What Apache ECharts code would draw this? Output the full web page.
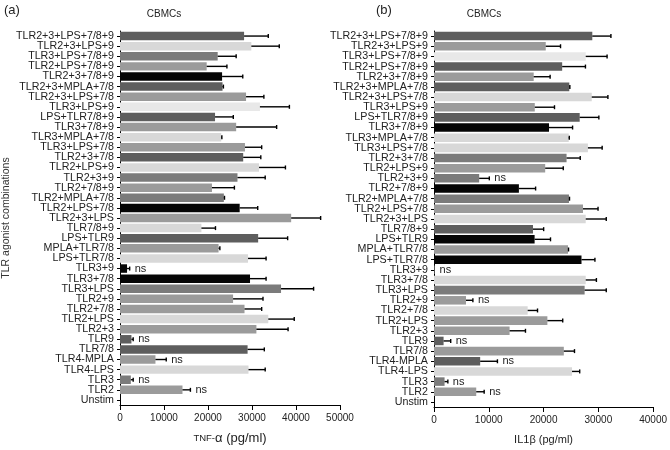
<!DOCTYPE html>
<html>
<head>
<meta charset="utf-8">
<script src="https://cdn.jsdelivr.net/npm/echarts@6/dist/echarts.min.js"></script>
<style>
html,body{margin:0;padding:0;background:#fff;}
#chart{width:670px;height:450px;}
</style>
</head>
<body>
<div id="chart"></div>
<script>
const categories = [
  'TLR2+3+LPS+7/8+9','TLR2+3+LPS+9','TLR3+LPS+7/8+9','TLR2+LPS+7/8+9','TLR2+3+7/8+9',
  'TLR2+3+MPLA+7/8','TLR2+3+LPS+7/8','TLR3+LPS+9','LPS+TLR7/8+9','TLR3+7/8+9',
  'TLR3+MPLA+7/8','TLR3+LPS+7/8','TLR2+3+7/8','TLR2+LPS+9','TLR2+3+9',
  'TLR2+7/8+9','TLR2+MPLA+7/8','TLR2+LPS+7/8','TLR2+3+LPS','TLR7/8+9',
  'LPS+TLR9','MPLA+TLR7/8','LPS+TLR7/8','TLR3+9','TLR3+7/8',
  'TLR3+LPS','TLR2+9','TLR2+7/8','TLR2+LPS','TLR2+3',
  'TLR9','TLR7/8','TLR4-MPLA','TLR4-LPS','TLR3','TLR2','Unstim'
];

// Panel (a): TNF-alpha (pg/ml)
const tnfValues = [
  28200,29850,22200,19700,23200, 23300,28650,31800,21600,26400,
  23000,28400,28000,31600,26700, 20900,23600,27200,38900,18500,
  31400,22400,29100,1600,29550, 36600,25700,28300,33700,31000,
  2600,29000,8060,29200,2460,14200,0
];
const tnfErrors = [
  5500,6350,4200,4600,4700, 200,4050,6700,4150,9200,
  150,3800,4000,6000,6300, 5100,150,4100,6700,3200,
  6700,300,4100,600,3650, 7400,6800,3900,5900,7200,
  400,3800,2450,3800,540,1800,0
];
const tnfNs = ['TLR3+9','TLR9','TLR4-MPLA','TLR3','TLR2'];
const tnfShades = [
  'D','L','M2','M','K', 'D','M','P','D','M',
  'L','M','D','L','M2', 'M','M2','K','M','L',
  'D','M','L','K','K', 'M2','M','M','L','M',
  'D','D','M','L','M2','M','M'
];

// Panel (b): IL1beta (pg/ml)
const il1Values = [
  28900,20400,27700,23400,18200, 24700,28800,18400,26600,21000,
  24600,28100,24200,20300,8250, 15500,24640,27200,27700,18070,
  18370,24460,26930,100,27700, 27500,5840,17100,20700,13800,
  1750,23700,8430,25200,1930,7710,0
];
const il1Errors = [
  3400,2700,3900,4250,3000, 100,2950,3600,3500,4300,
  100,2600,2500,3300,1850, 3050,100,2750,3750,1950,
  2900,100,2450,0,1950, 3950,1260,1800,2800,2900,
  1300,1950,3150,1400,600,1450,0
];
const il1Ns = ['TLR2+3+9','TLR3+9','TLR2+9','TLR9','TLR4-MPLA','TLR3','TLR2'];
const il1Shades = [
  'D','M','P','D','M', 'D','L','M','D','K',
  'L','L','M2','M','M2', 'K','M2','M','L','D',
  'K','M','K','M','L', 'M2','M','L','M','M',
  'D','M','D','L','M2','M','M'
];

const tnfTicks = [0,10000,20000,30000,40000,50000];
const il1Ticks = [0,10000,20000,30000,40000];

const palette = {K:'#050505', D:'#5e5e5e', M2:'#7b7b7b', M:'#9b9b9b', L:'#d8d8d8', P:'#e8e8e8'};
const FONT = 'Liberation Sans, Arial, sans-serif';

function barData(values, shades){
  return values.map((v,i)=>({value:v, itemStyle:{color:palette[shades[i]]}}));
}
function errData(values, errors, nsList){
  return values.map((v,i)=>[v, i, errors[i], nsList.indexOf(categories[i])>=0 ? 1 : 0]);
}
function errRender(params, api){
  const v = api.value(0), idx = api.value(1), e = api.value(2), ns = api.value(3);
  const p0 = api.coord([v, idx]);
  const p1 = api.coord([v + e, idx]);
  const children = [];
  if (e > 0) {
    children.push({type:'line', shape:{x1:p0[0], y1:p0[1], x2:p1[0], y2:p1[1]}, style:{stroke:'#000', lineWidth:1.4}});
    children.push({type:'line', shape:{x1:p1[0], y1:p1[1]-2, x2:p1[0], y2:p1[1]+2}, style:{stroke:'#000', lineWidth:1.4}});
  }
  if (ns) {
    children.push({type:'text', style:{text:'ns', x:p1[0]+5, y:p1[1], fill:'#222', font:'11px '+FONT, textVerticalAlign:'middle', verticalAlign:'middle'}});
  }
  return {type:'group', children};
}

function yAxisCfg(gridIndex, withName){
  return {
    type:'category', gridIndex, data:categories, inverse:true,
    axisLine:{show:true, lineStyle:{color:'#000', width:1}},
    axisTick:{show:true, length:3, alignWithLabel:true, lineStyle:{color:'#000'}},
    axisLabel:{fontSize:10.7, color:'#222', fontFamily:FONT, margin:6, interval:0},
    name: withName ? 'TLR agonist combinations' : '',
    nameLocation:'middle', nameRotate:90, nameGap:108,
    nameTextStyle:{fontSize:10.5, color:'#333', fontFamily:FONT}
  };
}
function xAxisCfg(gridIndex, ticks, name, rich){
  return {
    type:'value', gridIndex, min:ticks[0], max:ticks[ticks.length-1], interval:ticks[1]-ticks[0],
    axisLine:{show:true, lineStyle:{color:'#000', width:1}},
    axisTick:{show:true, length:5, lineStyle:{color:'#000'}},
    axisLabel:{fontSize:10, color:'#222', fontFamily:FONT, margin:8, formatter:(v)=>String(v)},
    splitLine:{show:false},
    name, nameLocation:'middle', nameGap:27,
    nameTextStyle:{fontSize:11, color:'#222', fontFamily:FONT, rich}
  };
}

const chart = echarts.init(document.getElementById('chart'), null, {renderer:'canvas'});
chart.setOption({
  backgroundColor:'#fff',
  animation:false,
  grid:[
    {left:117, right:330, top:31, bottom:39},
    {left:434, right:14, top:31, bottom:39}
  ],
  graphic:[
    {type:'text', left:4, top:4, style:{text:'(a)', font:'13px '+FONT, fill:'#222'}},
    {type:'text', left:376, top:4, style:{text:'(b)', font:'13px '+FONT, fill:'#222'}},
    {type:'text', x:164, y:14, style:{text:'CBMCs', font:'10px '+FONT, fill:'#222', textAlign:'center', textVerticalAlign:'middle'}},
    {type:'text', x:484, y:14, style:{text:'CBMCs', font:'10px '+FONT, fill:'#222', textAlign:'center', textVerticalAlign:'middle'}}
  ],
  xAxis:[
    xAxisCfg(0, tnfTicks, '{s|TNF-}{b|α (pg/ml)}', {s:{fontSize:9.5, color:'#222', fontFamily:FONT}, b:{fontSize:13, color:'#222', fontFamily:FONT}}),
    xAxisCfg(1, il1Ticks, 'IL1β (pg/ml)', undefined)
  ],
  yAxis:[ yAxisCfg(0, true), yAxisCfg(1, false) ],
  series:[
    {type:'bar', xAxisIndex:0, yAxisIndex:0, data:barData(tnfValues, tnfShades), barCategoryGap:'16%'},
    {type:'bar', xAxisIndex:1, yAxisIndex:1, data:barData(il1Values, il1Shades), barCategoryGap:'16%'},
    {type:'custom', xAxisIndex:0, yAxisIndex:0, data:errData(tnfValues, tnfErrors, tnfNs), renderItem:errRender, z:5, clip:false},
    {type:'custom', xAxisIndex:1, yAxisIndex:1, data:errData(il1Values, il1Errors, il1Ns), renderItem:errRender, z:5, clip:false}
  ]
});
</script>
</body>
</html>
